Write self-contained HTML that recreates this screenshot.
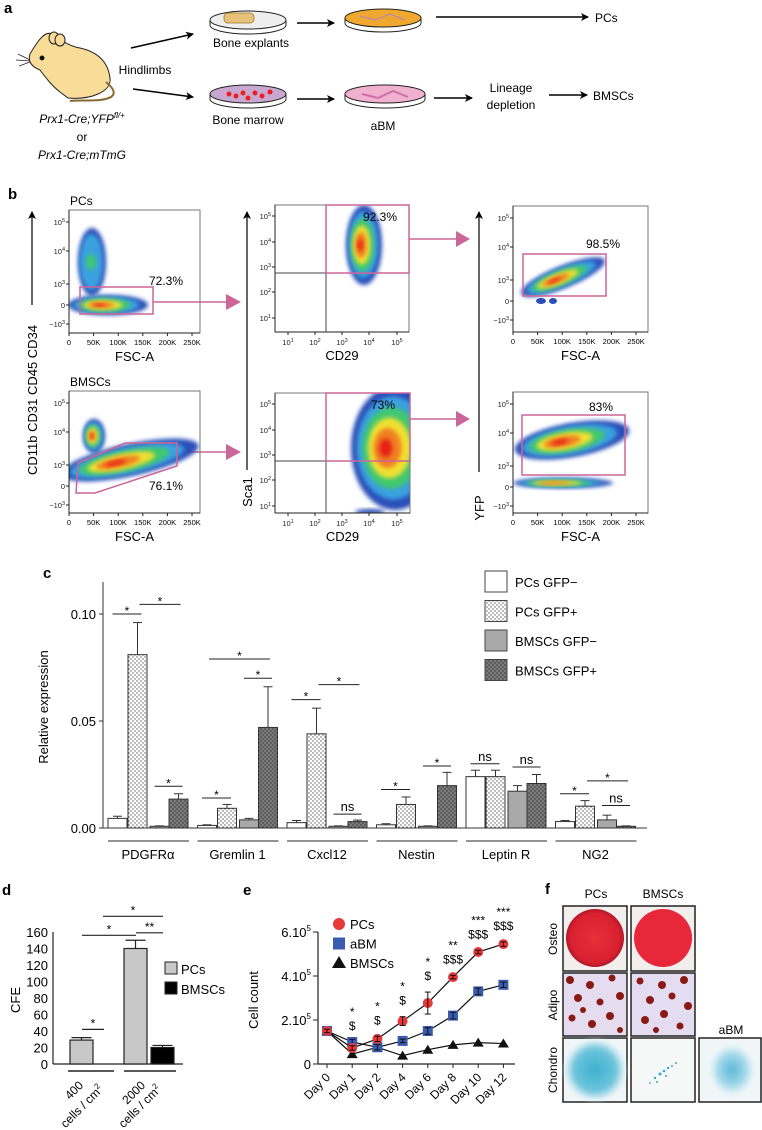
<!DOCTYPE html>
<html><head><meta charset="utf-8"><style>
html,body{margin:0;padding:0;background:#fff;}
svg{display:block;font-family:"Liberation Sans",sans-serif;}
</style></head><body>
<svg id="fig" xmlns="http://www.w3.org/2000/svg" width="762" height="1130" viewBox="0 0 762 1130">
<defs>
<pattern id="dotW" width="4" height="4" patternUnits="userSpaceOnUse"><rect width="4" height="4" fill="#fff"/><circle cx="1" cy="1" r="0.7" fill="#555"/><circle cx="3" cy="3" r="0.7" fill="#555"/></pattern>
<pattern id="dotD" width="4" height="4" patternUnits="userSpaceOnUse"><rect width="4" height="4" fill="#7a7a7a"/><circle cx="1" cy="1" r="0.7" fill="#333"/><circle cx="3" cy="3" r="0.7" fill="#333"/></pattern>
<filter id="blur" x="-30%" y="-30%" width="160%" height="160%"><feGaussianBlur stdDeviation="2"/></filter>
<marker id="ah" markerWidth="8" markerHeight="8" refX="7" refY="4" orient="auto" markerUnits="userSpaceOnUse"><path d="M0,0 L8,4 L0,8 L2,4 Z" fill="#000"/></marker>
<radialGradient id="redDish"><stop offset="0" stop-color="#e8303a"/><stop offset="0.85" stop-color="#d82030"/><stop offset="1" stop-color="#b01828"/></radialGradient>
<radialGradient id="chon1"><stop offset="0" stop-color="#3fb0d0"/><stop offset="0.7" stop-color="#6cc4dc"/><stop offset="1" stop-color="#e8f4f8"/></radialGradient>
<radialGradient id="chon3"><stop offset="0" stop-color="#5ab8d8"/><stop offset="0.6" stop-color="#9fd6e8"/><stop offset="1" stop-color="#eef7fa"/></radialGradient>
</defs>

<g>
<text x="4" y="13" font-size="15" font-weight="bold">a</text>
<g stroke="#222" stroke-width="1">
<path d="M68,98 C90,100 112,92 110,78 C108,62 98,52 80,48 C68,46 58,38 52,34 C44,30 36,44 30,54 C28,60 30,66 40,70 C46,78 52,86 60,92 Z" fill="#f8dc98"/>
<ellipse cx="54" cy="38" rx="5" ry="6" fill="#f8dc98"/>
<ellipse cx="60" cy="40" rx="5" ry="6" fill="#f8dc98"/>
<path d="M106,82 C118,92 116,98 100,100 C88,101 78,100 70,101" fill="none" stroke="#8a6a30" stroke-width="2"/>
<circle cx="42" cy="58" r="2" fill="#000"/>
<path d="M30,60 L18,54 M30,61 L16,60 M30,62 L19,66" fill="none" stroke-width="0.7"/>
</g>
<text x="145" y="74" font-size="12" text-anchor="middle">Hindlimbs</text>
<line x1="131" y1="48" x2="193" y2="34" stroke="#000" stroke-width="1.5" marker-end="url(#ah)"/>
<line x1="133" y1="89" x2="193" y2="97" stroke="#000" stroke-width="1.5" marker-end="url(#ah)"/>
<text x="82" y="123" font-size="12" text-anchor="middle" font-style="italic">Prx1-Cre;YFP<tspan font-size="8" dy="-5">fl/+</tspan></text>
<text x="82" y="141" font-size="12" text-anchor="middle">or</text>
<text x="82" y="159" font-size="12" text-anchor="middle" font-style="italic">Prx1-Cre;mTmG</text>
<g>
<ellipse cx="248" cy="20" rx="38" ry="9" fill="#eee" stroke="#222"/>
<rect x="224" y="13" width="30" height="10" rx="4" fill="#e8c27a" stroke="#a07a30" stroke-width="0.8"/>
<path d="M210,20 L210,25 A38,9 0 0 0 286,25 L286,20" fill="none" stroke="#222"/>
</g>
<text x="251" y="47" font-size="12" text-anchor="middle">Bone explants</text>
<g>
<ellipse cx="248" cy="94" rx="38" ry="9" fill="#c8a8d0" stroke="#222"/>
<circle cx="229" cy="94" r="2.5" fill="#e82020"/><circle cx="236" cy="96" r="2.5" fill="#e82020"/><circle cx="243" cy="93" r="2.5" fill="#e82020"/><circle cx="248" cy="98" r="2.5" fill="#e82020"/><circle cx="255" cy="93" r="2.5" fill="#e82020"/><circle cx="262" cy="96" r="2.5" fill="#e82020"/><circle cx="270" cy="92" r="2.5" fill="#e82020"/>
<path d="M210,94 L210,99 A38,9 0 0 0 286,99 L286,94" fill="none" stroke="#222"/>
</g>
<text x="248" y="124" font-size="12" text-anchor="middle">Bone marrow</text>
<line x1="297" y1="23" x2="334" y2="23" stroke="#000" stroke-width="1.5" marker-end="url(#ah)"/>
<g>
<ellipse cx="383" cy="18" rx="38" ry="9" fill="#f0a830" stroke="#222"/>
<path d="M360,16 L375,20 L390,14 L405,20" stroke="#b080c0" fill="none"/>
<path d="M345,18 L345,23 A38,9 0 0 0 421,23 L421,18" fill="none" stroke="#222"/>
</g>
<line x1="436" y1="17" x2="588" y2="17" stroke="#000" stroke-width="1.5" marker-end="url(#ah)"/>
<text x="595" y="22" font-size="12">PCs</text>
<line x1="297" y1="99" x2="334" y2="99" stroke="#000" stroke-width="1.5" marker-end="url(#ah)"/>
<g>
<ellipse cx="385" cy="94" rx="40" ry="9" fill="#f0b0d0" stroke="#222"/>
<path d="M362,94 L378,98 L393,91 L408,97" stroke="#d070a8" fill="none" stroke-width="2"/>
<path d="M345,94 L345,99 A40,9 0 0 0 425,99 L425,94" fill="none" stroke="#222"/>
</g>
<text x="383" y="130" font-size="12" text-anchor="middle">aBM</text>
<line x1="434" y1="98" x2="472" y2="98" stroke="#000" stroke-width="1.5" marker-end="url(#ah)"/>
<text x="511" y="92" font-size="12" text-anchor="middle">Lineage</text>
<text x="511" y="109" font-size="12" text-anchor="middle">depletion</text>
<line x1="549" y1="95" x2="587" y2="95" stroke="#000" stroke-width="1.5" marker-end="url(#ah)"/>
<text x="593" y="100" font-size="12">BMSCs</text>
</g>

<g id="panelB">
<text x="8" y="199" font-size="15" font-weight="bold">b</text>
<text x="70" y="205" font-size="12">PCs</text>
<text x="70" y="386" font-size="12">BMSCs</text>
<line x1="32" y1="305" x2="32" y2="212" stroke="#000" stroke-width="1.2" marker-end="url(#ah)"/>
<text transform="translate(37,400) rotate(-90)" font-size="13" text-anchor="middle">CD11b  CD31  CD45  CD34</text>
<line x1="247" y1="470" x2="247" y2="212" stroke="#000" stroke-width="1.2" marker-end="url(#ah)"/>
<text transform="translate(252,492) rotate(-90)" font-size="13" text-anchor="middle">Sca1</text>
<line x1="479" y1="472" x2="479" y2="212" stroke="#000" stroke-width="1.2" marker-end="url(#ah)"/>
<text transform="translate(484,508) rotate(-90)" font-size="13" text-anchor="middle">YFP</text>
<g fill="#cc6699" stroke="#cc6699" stroke-width="1.5">
<line x1="153" y1="302" x2="228" y2="302"/><path d="M226,294 L241,302 L226,310 Z" stroke="none"/>
<line x1="177" y1="452" x2="228" y2="452"/><path d="M226,444 L241,452 L226,460 Z" stroke="none"/>
<line x1="409" y1="239" x2="458" y2="239"/><path d="M456,231 L470,239 L456,247 Z" stroke="none"/>
<line x1="410" y1="419" x2="458" y2="419"/><path d="M456,411 L470,419 L456,427 Z" stroke="none"/>
</g>
</g>

<g id="panelC">
<text x="43" y="578" font-size="15" font-weight="bold">c</text>
<text transform="translate(48,707) rotate(-90)" font-size="13" text-anchor="middle">Relative expression</text>
</g>

<g id="panelD">
<text x="2" y="895" font-size="15" font-weight="bold">d</text>
<text transform="translate(20,1000) rotate(-90)" font-size="13" text-anchor="middle">CFE</text>
</g>

<g id="panelE">
<text x="243" y="895" font-size="15" font-weight="bold">e</text>
<text transform="translate(258,1000) rotate(-90)" font-size="13" text-anchor="middle">Cell count</text>
</g>

<g>
<text x="545" y="894" font-size="15" font-weight="bold">f</text>
<text x="596" y="898" font-size="12" text-anchor="middle">PCs</text>
<text x="663" y="898" font-size="12" text-anchor="middle">BMSCs</text>
<text x="731" y="1034" font-size="12" text-anchor="middle">aBM</text>
<text transform="translate(557,939) rotate(-90)" font-size="12" text-anchor="middle">Osteo</text>
<text transform="translate(557,1005) rotate(-90)" font-size="12" text-anchor="middle">Adipo</text>
<text transform="translate(557,1070) rotate(-90)" font-size="12" text-anchor="middle">Chondro</text>
<g><rect x="563" y="906" width="64" height="65" fill="#f2eeee" stroke="#222" stroke-width="1.5"/><circle cx="595" cy="938" r="29" fill="url(#redDish)"/></g>
<g><rect x="631" y="906" width="64" height="65" fill="#f2eeee" stroke="#222" stroke-width="1.5"/><circle cx="663" cy="938" r="29" fill="#e8283a"/></g>
<g><rect x="563" y="973" width="64" height="63" fill="#e6dcf0" stroke="#222" stroke-width="1.5"/>
<g fill="#8a1a14"><circle cx="570" cy="980" r="4"/><circle cx="590" cy="985" r="4"/><circle cx="612" cy="978" r="3.5"/><circle cx="578" cy="998" r="4"/><circle cx="600" cy="1002" r="3.5"/><circle cx="620" cy="996" r="4"/><circle cx="572" cy="1018" r="3.5"/><circle cx="592" cy="1024" r="4"/><circle cx="610" cy="1016" r="4"/><circle cx="620" cy="1030" r="3"/><circle cx="583" cy="1010" r="3"/></g></g>
<g><rect x="631" y="973" width="64" height="63" fill="#e4dcf0" stroke="#222" stroke-width="1.5"/>
<g fill="#8a1a14"><circle cx="640" cy="981" r="3.5"/><circle cx="662" cy="985" r="4"/><circle cx="684" cy="980" r="4"/><circle cx="650" cy="1000" r="4"/><circle cx="672" cy="996" r="3.5"/><circle cx="688" cy="1006" r="4"/><circle cx="645" cy="1020" r="4"/><circle cx="664" cy="1014" r="4"/><circle cx="680" cy="1026" r="3.5"/><circle cx="656" cy="1030" r="3"/></g></g>
<g><rect x="563" y="1038" width="64" height="64" fill="#f0f6f8" stroke="#222" stroke-width="1.5"/><ellipse cx="595" cy="1070" rx="30" ry="30" fill="url(#chon1)" filter="url(#blur)"/></g>
<g><rect x="631" y="1038" width="64" height="64" fill="#f6f8f8" stroke="#222" stroke-width="1.5"/>
<g fill="#3aa8c0"><circle cx="655" cy="1078" r="1.2"/><circle cx="660" cy="1074" r="1.5"/><circle cx="664" cy="1071" r="1.3"/><circle cx="668" cy="1068" r="1.2"/><circle cx="672" cy="1066" r="1"/><circle cx="657" cy="1082" r="1"/><circle cx="666" cy="1076" r="1"/><circle cx="676" cy="1063" r="1"/><circle cx="650" cy="1083" r="0.9"/></g></g>
<g><rect x="699" y="1038" width="62" height="64" fill="#f0f6f8" stroke="#222" stroke-width="1.5"/><ellipse cx="732" cy="1070" rx="22" ry="25" fill="url(#chon3)" filter="url(#blur)"/></g>
</g>
</svg>

<script>
// ---------------- Panel c data ----------------
var cGenes = ["PDGFRα","Gremlin 1","Cxcl12","Nestin","Leptin R","NG2"];
var cSeries = ["PCs GFP−","PCs GFP+","BMSCs GFP−","BMSCs GFP+"];
var cPcsNeg  = [0.0045,0.0012,0.0025,0.0015,0.0240,0.0030];
var cPcsPos  = [0.0810,0.0092,0.0440,0.0110,0.0240,0.0102];
var cBmNeg   = [0.0008,0.0038,0.0008,0.0008,0.0172,0.0038];
var cBmPos   = [0.0135,0.0470,0.0030,0.0198,0.0208,0.0008];
var cErrPcsNeg = [0.0010,0.0003,0.0010,0.0005,0.0030,0.0005];
var cErrPcsPos = [0.0150,0.0018,0.0120,0.0035,0.0030,0.0026];
var cErrBmNeg  = [0.0002,0.0007,0.0002,0.0002,0.0026,0.0022];
var cErrBmPos  = [0.0025,0.0190,0.0007,0.0062,0.0042,0.0002];
var cTicks = [0,0.05,0.10];
var cTickLabels = ["0.00","0.05","0.10"];
var cSig = [[0,0,1,0.100,"*"],[0,1,3,0.1045,"*"],[0,2,3,0.0195,"*"],
 [1,0,1,0.0140,"*"],[1,0,3,0.0790,"*"],[1,2,3,0.0700,"*"],
 [2,0,1,0.0600,"*"],[2,1,3,0.0670,"*"],[2,2,3,0.0065,"ns"],
 [3,0,1,0.0180,"*"],[3,2,3,0.0290,"*"],
 [4,0,1,0.0300,"ns"],[4,2,3,0.0285,"ns"],
 [5,0,1,0.0160,"*"],[5,1,3,0.0220,"*"],[5,2,3,0.0105,"ns"]];

// ---------------- Panel d data ----------------
var dGroups = ["400","2000"];
var dPCs = [29,140];
var dBMSCs = [0,20];
var dErrPCs = [3,10];
var dErrBMSCs = [0,2.5];
var dTicks = [0,20,40,60,80,100,120,140,160];

// ---------------- Panel e data ----------------
var eDays = ["Day 0","Day 1","Day 2","Day 4","Day 6","Day 8","Day 10","Day 12"];
var ePCs   = [1.50,0.73,1.14,1.95,2.77,3.95,5.09,5.45];
var eABM   = [1.50,1.00,0.76,1.05,1.50,2.20,3.30,3.60];
var eBMSCs = [1.50,0.45,0.76,0.38,0.65,0.87,0.97,0.93];
var eErrPCs = [0.08,0.10,0.12,0.20,0.50,0.08,0.08,0.10];
var eErrABM = [0.08,0.12,0.12,0.08,0.15,0.15,0.15,0.12];
var eStars = ["","*","*","*","*","**","***","***"];
var eDollars = ["","$","$","$","$","$$$","$$$","$$$"];
var eTicks = [0,2,4,6];

var NS = "http://www.w3.org/2000/svg";
function mk(parent, tag, attrs, text){
  var el = document.createElementNS(NS, tag);
  for (var k in attrs) el.setAttribute(k, attrs[k]);
  if (text !== undefined) el.textContent = text;
  parent.appendChild(el);
  return el;
}

// ======== Panel c ========
(function(){
  var g = document.getElementById("panelC");
  var y0 = 828, k = 2140;
  function yC(v){ return y0 - v*k; }
  function groupLeft(i){ return 108 + i*89.5; }
  var offs = [0,20,42,61], bw = 19;
  var fills = ["#fff","url(#dotW)","#a9a9a9","url(#dotD)"];
  var vals = [cPcsNeg,cPcsPos,cBmNeg,cBmPos];
  var errs = [cErrPcsNeg,cErrPcsPos,cErrBmNeg,cErrBmPos];
  var ax = mk(g,"line",{x1:103,y1:582,x2:103,y2:y0,stroke:"#333","stroke-width":1});
  
  
  var xa = mk(g,"line",{x1:103,y1:y0,x2:647,y2:y0,stroke:"#333","stroke-width":1});
  
  
  cTicks.forEach(function(t,i){
    mk(g,"line",{x1:99,y1:yC(t),x2:103,y2:yC(t),stroke:"#333"});
    var tl = mk(g,"text",{x:96,y:yC(t)+5,"font-size":13,"text-anchor":"end"},cTickLabels[i]);
    
    
  });
  cGenes.forEach(function(gene,gi){
    var L = groupLeft(gi);
    for (var s=0;s<4;s++){
      var v = vals[s][gi], e = errs[s][gi];
      var cx = L+offs[s]+bw/2;
      mk(g,"line",{x1:cx,y1:yC(v),x2:cx,y2:yC(v+e),stroke:"#333","stroke-width":1});
      mk(g,"line",{x1:cx-4.5,y1:yC(v+e),x2:cx+4.5,y2:yC(v+e),stroke:"#333","stroke-width":1});
      var r = mk(g,"rect",{x:L+offs[s],y:yC(v),width:bw,height:Math.max(0.8,v*k),fill:fills[s],stroke:"#333","stroke-width":1});
      
      
    }
    var ul = mk(g,"line",{x1:L,y1:841,x2:L+81,y2:841,stroke:"#555","stroke-width":1.2});
    
    
    var lab = mk(g,"text",{x:L+40,y:859,"font-size":13,"text-anchor":"middle"},gene);
    
    
  });
  cSig.forEach(function(sg){
    var L = groupLeft(sg[0]);
    var wide = (sg[2]-sg[1]) > 1;
    var xa1 = L+offs[sg[1]]+bw/2 + (wide?2:-5);
    var xb = L+offs[sg[2]]+bw/2 + (wide?2:4);
    var y = yC(sg[3]);
    mk(g,"line",{x1:xa1,y1:y,x2:xb,y2:y,stroke:"#222","stroke-width":1});
    var st = mk(g,"text",{x:(xa1+xb)/2,y:sg[4]==="ns"?y-3:y+1,"font-size":sg[4]==="ns"?13:12,"text-anchor":"middle"},sg[4]);
    
    
  });
  cSeries.forEach(function(name,i){
    var y = 571 + i*29.5;
    var b = mk(g,"rect",{x:485,y:y,width:22,height:21,fill:fills[i],stroke:"#444","stroke-width":1});
    
    
    var t = mk(g,"text",{x:515,y:y+16,"font-size":13},name);
    
    
  });
})();

// ======== Panel d ========
(function(){
  var g = document.getElementById("panelD");
  var y0 = 1064, k = 132/160;
  function yD(v){ return y0 - v*k; }
  var gx = [70,124], bw = 23;
  var numEnd = [[84,1086],[146,1086]];
  var unitEnd = [[104,1090],[162,1090]];
  mk(g,"line",{x1:53,y1:932,x2:53,y2:y0,stroke:"#222","stroke-width":1.2});
  var xa = mk(g,"line",{x1:53,y1:y0,x2:183,y2:y0,stroke:"#222","stroke-width":1.2});
  
  
  dTicks.forEach(function(t){
    var tl = mk(g,"text",{x:48,y:yD(t)+5,"font-size":13,"text-anchor":"end"},String(t));
    
    
  });
  dGroups.forEach(function(gr,i){
    var xs = [gx[i], gx[i]+27];
    [[dPCs,dErrPCs,"#c8c8c8"],[dBMSCs,dErrBMSCs,"#000"]].forEach(function(ser,s){
      var v = ser[0][i], e = ser[1][i];
      if (v<=0) return;
      var cx = xs[s]+bw/2;
      mk(g,"line",{x1:cx,y1:yD(v),x2:cx,y2:yD(v+e),stroke:"#222","stroke-width":1.2});
      mk(g,"line",{x1:cx-10,y1:yD(v+e),x2:cx+10,y2:yD(v+e),stroke:"#222","stroke-width":1.2});
      var r = mk(g,"rect",{x:xs[s],y:yD(v),width:bw,height:v*k,fill:ser[2],stroke:"#222","stroke-width":1.2});
      
      
    });
    var L = i===0?68:124;
    mk(g,"line",{x1:L,y1:1071,x2:L+(i===0?46:52),y2:1071,stroke:"#222","stroke-width":1.5});
    var t1 = mk(g,"text",{transform:"translate("+numEnd[i][0]+","+numEnd[i][1]+") rotate(-45)","font-size":12,"text-anchor":"end"},gr);
    
    
    var t2 = mk(g,"text",{transform:"translate("+unitEnd[i][0]+","+unitEnd[i][1]+") rotate(-45)","font-size":12,"text-anchor":"end"});
    mk(t2,"tspan",{},"cells / cm");
    mk(t2,"tspan",{"font-size":8,dy:-5},"2");
    
    
  });
  var sig = [[82,104,42,"*"],[82,136,156,"*"],[136,163,159,"**"],[103,163,179,"*"]];
  sig.forEach(function(s){
    mk(g,"line",{x1:s[0],y1:yD(s[2]),x2:s[1],y2:yD(s[2]),stroke:"#222","stroke-width":1.2});
    var t = mk(g,"text",{x:(s[0]+s[1])/2,y:yD(s[2])-2,"font-size":12,"text-anchor":"middle"},s[3]);
    
    
  });
  [["PCs","#c8c8c8"],["BMSCs","#000"]].forEach(function(l,i){
    var b = mk(g,"rect",{x:165,y:962+i*20,width:12,height:12,fill:l[1],stroke:"#222"});
    
    
    var t = mk(g,"text",{x:181,y:974+i*20,"font-size":13},l[0]);
    
    
  });
})();

// ======== Panel e ========
(function(){
  var g = document.getElementById("panelE");
  var y0 = 1064, k = 22;
  function yE(v){ return y0 - v*k; }
  function xE(i){ return 327 + i*25.2; }
  mk(g,"line",{x1:318,y1:932,x2:318,y2:y0,stroke:"#222","stroke-width":1.2});
  var xa = mk(g,"line",{x1:318,y1:y0,x2:515,y2:y0,stroke:"#222","stroke-width":1.2});
  
  
  eTicks.forEach(function(t){
    mk(g,"line",{x1:313,y1:yE(t),x2:318,y2:yE(t),stroke:"#222"});
    var tl = mk(g,"text",{x:311,y:yE(t)+5,"font-size":13,"text-anchor":"end"});
    if (t===0) tl.textContent = "0";
    else { mk(tl,"tspan",{},t+".10"); mk(tl,"tspan",{"font-size":8,dy:-6},"5"); }
    
    
  });
  eDays.forEach(function(d,i){
    mk(g,"line",{x1:xE(i),y1:y0,x2:xE(i),y2:y0+4,stroke:"#222"});
    var tl = mk(g,"text",{transform:"translate("+(xE(i)+4)+","+(y0+14)+") rotate(-45)","font-size":12,"text-anchor":"end"},d);
    
    
    if (eStars[i]){
      var top = yE(Math.max(ePCs[i]+eErrPCs[i],eABM[i]));
      var s1 = mk(g,"text",{x:xE(i),y:top-26,"font-size":12,"text-anchor":"middle"},eStars[i]);
      
      
      var s2 = mk(g,"text",{x:xE(i),y:top-12,"font-size":12,"text-anchor":"middle"},eDollars[i]);
      
      
    }
  });
  function series(vals, errs, color, shape, name){
    var pts = vals.map(function(v,i){ return xE(i)+","+yE(v); }).join(" ");
    var pl = mk(g,"polyline",{points:pts,fill:"none",stroke:"#111","stroke-width":1.2});
    
    
    vals.forEach(function(v,i){
      var x = xE(i), y = yE(v), m;
      if (shape==="circle") m = mk(g,"circle",{cx:x,cy:y,r:5,fill:color});
      else if (shape==="square") m = mk(g,"rect",{x:x-5,y:y-5,width:10,height:10,fill:color});
      else m = mk(g,"path",{d:"M"+x+","+(y-5)+" L"+(x+5.5)+","+(y+4)+" L"+(x-5.5)+","+(y+4)+" Z",fill:color});
      
      
      if (errs){
        var e = errs[i];
        mk(g,"line",{x1:x,y1:yE(v-e),x2:x,y2:yE(v+e),stroke:"#111","stroke-width":1});
        mk(g,"line",{x1:x-3,y1:yE(v+e),x2:x+3,y2:yE(v+e),stroke:"#111","stroke-width":1});
        mk(g,"line",{x1:x-3,y1:yE(v-e),x2:x+3,y2:yE(v-e),stroke:"#111","stroke-width":1});
      }
    });
  }
  series(eBMSCs, null, "#111", "tri", "bmscs");
  series(eABM, eErrABM, "#3a5cb0", "square", "abm");
  series(ePCs, eErrPCs, "#e8383a", "circle", "pcs");
  var lg = [["PCs","#e8383a","circle"],["aBM","#3a5cb0","square"],["BMSCs","#111","tri"]];
  lg.forEach(function(l,i){
    var y = 924 + i*19.5, x = 339, m;
    if (l[2]==="circle") m = mk(g,"circle",{cx:x,cy:y,r:6,fill:l[1]});
    else if (l[2]==="square") m = mk(g,"rect",{x:x-6,y:y-6,width:12,height:12,fill:l[1]});
    else m = mk(g,"path",{d:"M"+x+","+(y-7)+" L"+(x+7)+","+(y+5)+" L"+(x-7)+","+(y+5)+" Z",fill:l[1]});
    
    
    var t = mk(g,"text",{x:350,y:y+5,"font-size":13},l[0]);
    
    
  });
})();

// ======== Panel b flow plots ========
(function(){
  var g = document.getElementById("panelB");
  function supLabel(parent,x,y,base,exp,anchor){
    var t = mk(parent,"text",{x:x,y:y,"font-size":7.5,"text-anchor":anchor||"end",fill:"#222"});
    mk(t,"tspan",{},base);
    if (exp) mk(t,"tspan",{"font-size":5.5,dy:-3},exp);
    return t;
  }
  function blob(parent, cx, cy, rx, ry, rot, layers){
    var cols = ["#2a4fb8","#3aa0e0","#40c870","#f0e030","#f08020","#e82018"];
    for (var i=0;i<layers;i++){
      var f = 1 - i*0.17;
      mk(parent,"ellipse",{cx:cx - (1-f)*rx*0.25,cy:cy,rx:rx*f,ry:ry*f,fill:cols[i],filter:"url(#blur)",transform:"rotate("+rot+","+cx+","+cy+")"});
    }
  }
  function frame(x,y,w,h,type,name){
    var fg = mk(g,"g",{});
    
    
    var clipId = "clip"+name;
    var cp = mk(fg,"clipPath",{id:clipId});
    mk(cp,"rect",{x:x,y:y,width:w,height:h});
    var inner = mk(fg,"g",{"clip-path":"url(#"+clipId+")"});
    mk(fg,"rect",{x:x,y:y,width:w,height:h,fill:"none",stroke:"#777","stroke-width":1});
    mk(fg,"line",{x1:x,y1:y,x2:x,y2:y+h,stroke:"#222","stroke-width":1});
    mk(fg,"line",{x1:x,y1:y+h,x2:x+w,y2:y+h,stroke:"#222","stroke-width":1});
    if (type==="fsc"){
      var xt=["0","50K","100K","150K","200K","250K"];
      xt.forEach(function(t,i){ var xx=x+i*24.6; mk(fg,"line",{x1:xx,y1:y+h,x2:xx,y2:y+h+3,stroke:"#222"}); mk(fg,"text",{x:xx,y:y+h+12,"font-size":7.5,"text-anchor":"middle"},t); });
      var yt=[[12,"10","5"],[41,"10","4"],[74,"10","3"],[95,"0",""],[114,"−10","3"]];
      yt.forEach(function(t){ mk(fg,"line",{x1:x-3,y1:y+t[0],x2:x,y2:y+t[0],stroke:"#222"}); supLabel(fg,x-4,y+t[0]+3,t[1],t[2]); });
      var at = mk(fg,"text",{x:x+w/2,y:y+h+28,"font-size":13,"text-anchor":"middle"},"FSC-A");
      
      
    } else {
      var xs=[13,40,67,94,122];
      xs.forEach(function(t,i){ var xx=x+t; mk(fg,"line",{x1:xx,y1:y+h,x2:xx,y2:y+h+3,stroke:"#222"}); supLabel(fg,xx,y+h+13,"10",String(i+1),"middle"); });
      var ys=[[11,"5"],[37,"4"],[62,"3"],[87,"2"],[113,"1"]];
      ys.forEach(function(t){ mk(fg,"line",{x1:x-3,y1:y+t[0],x2:x,y2:y+t[0],stroke:"#222"}); supLabel(fg,x-4,y+t[0]+3,"10",t[1]); });
      var at2 = mk(fg,"text",{x:x+w/2,y:y+h+28,"font-size":13,"text-anchor":"middle"},"CD29");
      
      
    }
    return {g:fg, inner:inner};
  }
  var p1 = frame(69,210,131,123,"fsc","flow-pcs-cd45");
  blob(p1.inner,92,262,14,34,0,2);
  mk(p1.inner,"ellipse",{cx:91,cy:262,rx:5,ry:8,fill:"#40c870",filter:"url(#blur)"});
  blob(p1.inner,108,305,40,10,0,6);
  mk(p1.g,"rect",{x:80,y:287,width:73,height:27,fill:"none",stroke:"#cc6699","stroke-width":1.5});
  mk(p1.g,"text",{x:149,y:285,"font-size":12},"72.3%");
  var p2 = frame(69,391,131,122,"fsc","flow-bmscs-cd45");
  blob(p2.inner,94,436,11,17,0,6);
  blob(p2.inner,130,460,70,16,-12,6);
  mk(p2.g,"polygon",{points:"78,463 125,443 177,443 177,466 95,493 76,493",fill:"none",stroke:"#cc6699","stroke-width":1.5});
  mk(p2.g,"text",{x:149,y:490,"font-size":12},"76.1%");
  var p3 = frame(275,205,134,127,"cd29","flow-pcs-sca1");
  blob(p3.inner,364,245,18,40,0,6);
  mk(p3.g,"line",{x1:275,y1:273,x2:409,y2:273,stroke:"#444"});
  mk(p3.g,"line",{x1:326,y1:205,x2:326,y2:332,stroke:"#444"});
  mk(p3.g,"rect",{x:326,y:205,width:83,height:68,fill:"none",stroke:"#cc6699","stroke-width":1.5});
  mk(p3.g,"text",{x:363,y:221,"font-size":12},"92.3%");
  var p4 = frame(275,393,135,120,"cd29","flow-bmscs-sca1");
  blob(p4.inner,395,448,44,62,0,6);
  blob(p4.inner,370,512,15,3,0,1);
  mk(p4.g,"line",{x1:275,y1:461,x2:410,y2:461,stroke:"#444"});
  mk(p4.g,"line",{x1:326,y1:393,x2:326,y2:513,stroke:"#444"});
  mk(p4.g,"rect",{x:326,y:393,width:84,height:68,fill:"none",stroke:"#cc6699","stroke-width":1.5});
  mk(p4.g,"text",{x:371,y:409,"font-size":12},"73%");
  var p5 = frame(513,206,135,126,"fsc","flow-pcs-yfp");
  blob(p5.inner,563,277,45,11,-22,6);
  mk(p5.inner,"ellipse",{cx:541,cy:301,rx:5,ry:3,fill:"#2a4fb8"});
  mk(p5.inner,"ellipse",{cx:553,cy:301,rx:4,ry:3,fill:"#2a4fb8"});
  mk(p5.g,"rect",{x:523,y:254,width:83,height:42,fill:"none",stroke:"#cc6699","stroke-width":1.5});
  mk(p5.g,"text",{x:586,y:248,"font-size":12},"98.5%");
  var p6 = frame(513,392,135,121,"fsc","flow-bmscs-yfp");
  blob(p6.inner,572,440,58,17,-10,6);
  blob(p6.inner,563,483,50,5,0,5);
  mk(p6.g,"rect",{x:522,y:415,width:103,height:60,fill:"none",stroke:"#cc6699","stroke-width":1.5});
  mk(p6.g,"text",{x:589,y:411,"font-size":12},"83%");
})();
</script>
</body></html>
